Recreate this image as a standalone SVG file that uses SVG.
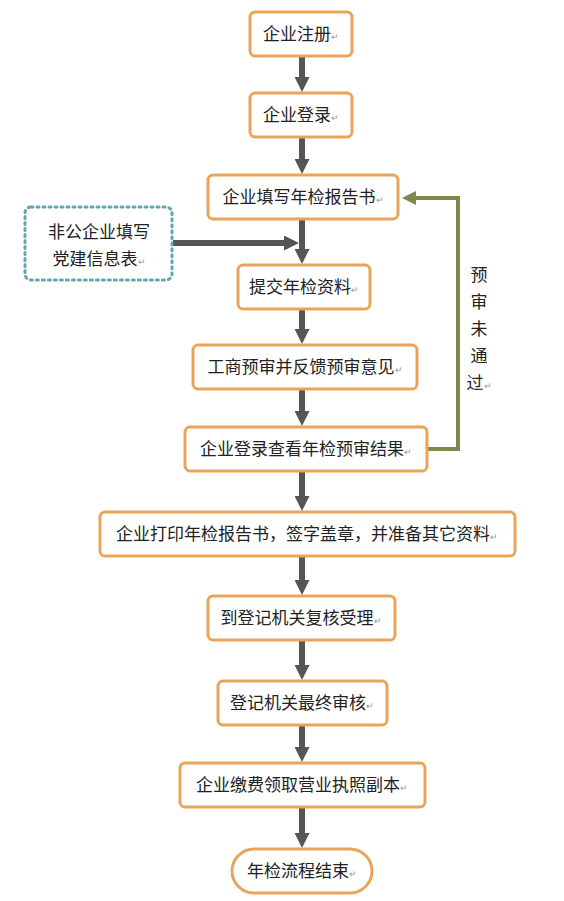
<svg xmlns="http://www.w3.org/2000/svg" width="564" height="901" viewBox="0 0 564 901">
<defs>
<style>
.box{fill:#fff;stroke:#e9a45a;stroke-width:3}
.t{font-family:"Noto Sans CJK SC","Liberation Sans",sans-serif;font-size:17px;fill:#222;text-anchor:middle}
.pm{font-size:9px;fill:#999}
.ar{fill:none;stroke:#555;stroke-width:6}
.fb{fill:none;stroke:#7d8a4c;stroke-width:4}
</style>
<marker id="ah" markerWidth="2.5" markerHeight="2.5" refX="1" refY="1.25" orient="auto" markerUnits="strokeWidth" viewBox="0 0 2.5 2.5">
<path d="M0,0 L2.5,1.25 L0,2.5 Z" fill="#555"/>
</marker>
<marker id="ahg" markerWidth="3.5" markerHeight="3.5" refX="1.5" refY="1.75" orient="auto" markerUnits="strokeWidth" viewBox="0 0 3.5 3.5">
<path d="M0,0 L3.5,1.75 L0,3.5 Z" fill="#7d8a4c"/>
</marker>
</defs>
<rect width="564" height="901" fill="#fff"/>

<g id="connectors">
<line class="ar" x1="302" y1="57" x2="302" y2="83" marker-end="url(#ah)"/>
<line class="ar" x1="302" y1="138" x2="302" y2="165" marker-end="url(#ah)"/>
<line class="ar" x1="302" y1="220" x2="302" y2="255" marker-end="url(#ah)"/>
<line class="ar" x1="173" y1="243" x2="290" y2="243" marker-end="url(#ah)"/>
<line class="ar" x1="302" y1="310" x2="302" y2="335" marker-end="url(#ah)"/>
<line class="ar" x1="302" y1="390" x2="302" y2="417" marker-end="url(#ah)"/>
<line class="ar" x1="302" y1="472" x2="302" y2="502" marker-end="url(#ah)"/>
<line class="ar" x1="302" y1="557" x2="302" y2="586" marker-end="url(#ah)"/>
<line class="ar" x1="302" y1="641" x2="302" y2="671" marker-end="url(#ah)"/>
<line class="ar" x1="302" y1="726" x2="302" y2="753" marker-end="url(#ah)"/>
<line class="ar" x1="302" y1="808" x2="302" y2="839" marker-end="url(#ah)"/>
<polyline class="fb" points="428,449 458,449 458,198 410,198" marker-end="url(#ahg)"/>
</g>

<g id="label-fail">
<text class="t" x="479" y="281">预</text>
<text class="t" x="479" y="308">审</text>
<text class="t" x="479" y="335">未</text>
<text class="t" x="479" y="362">通</text>
<text class="t" x="479" y="389">过<tspan class="pm">↵</tspan></text>
</g>

<g id="n1"><rect class="box" x="250" y="12" width="102" height="44" rx="5"/><text class="t" x="301" y="40">企业注册<tspan class="pm">↵</tspan></text></g>
<g id="n2"><rect class="box" x="250" y="93" width="102" height="44" rx="5"/><text class="t" x="301" y="121">企业登录<tspan class="pm">↵</tspan></text></g>
<g id="n3"><rect class="box" x="208" y="175" width="190" height="44" rx="5"/><text class="t" x="303" y="203">企业填写年检报告书<tspan class="pm">↵</tspan></text></g>
<g id="n-party"><rect x="25" y="207" width="147" height="73" rx="6" fill="#fff" stroke="#5fa8b0" stroke-width="3" stroke-dasharray="2 4" stroke-linecap="round"/>
<text class="t" x="99" y="238">非公企业填写</text><text class="t" x="99" y="265">党建信息表<tspan class="pm">↵</tspan></text></g>
<g id="n4"><rect class="box" x="238" y="265" width="132" height="44" rx="5"/><text class="t" x="304" y="293">提交年检资料<tspan class="pm">↵</tspan></text></g>
<g id="n5"><rect class="box" x="193" y="345" width="224" height="44" rx="5"/><text class="t" x="305" y="373">工商预审并反馈预审意见<tspan class="pm">↵</tspan></text></g>
<g id="n6"><rect class="box" x="185" y="427" width="242" height="44" rx="5"/><text class="t" x="306" y="455">企业登录查看年检预审结果<tspan class="pm">↵</tspan></text></g>
<g id="n7"><rect class="box" x="100" y="512" width="415" height="44" rx="5"/><text class="t" x="307" y="540">企业打印年检报告书，签字盖章，并准备其它资料<tspan class="pm">↵</tspan></text></g>
<g id="n8"><rect class="box" x="208" y="596" width="187" height="44" rx="5"/><text class="t" x="301" y="624">到登记机关复核受理<tspan class="pm">↵</tspan></text></g>
<g id="n9"><rect class="box" x="218" y="681" width="169" height="44" rx="5"/><text class="t" x="302" y="709">登记机关最终审核<tspan class="pm">↵</tspan></text></g>
<g id="n10"><rect class="box" x="180" y="763" width="245" height="44" rx="5"/><text class="t" x="302" y="791">企业缴费领取营业执照副本<tspan class="pm">↵</tspan></text></g>
<g id="n11"><rect class="box" x="232" y="849" width="140" height="44" rx="22"/><text class="t" x="302" y="877">年检流程结束<tspan class="pm">↵</tspan></text></g>
</svg>
